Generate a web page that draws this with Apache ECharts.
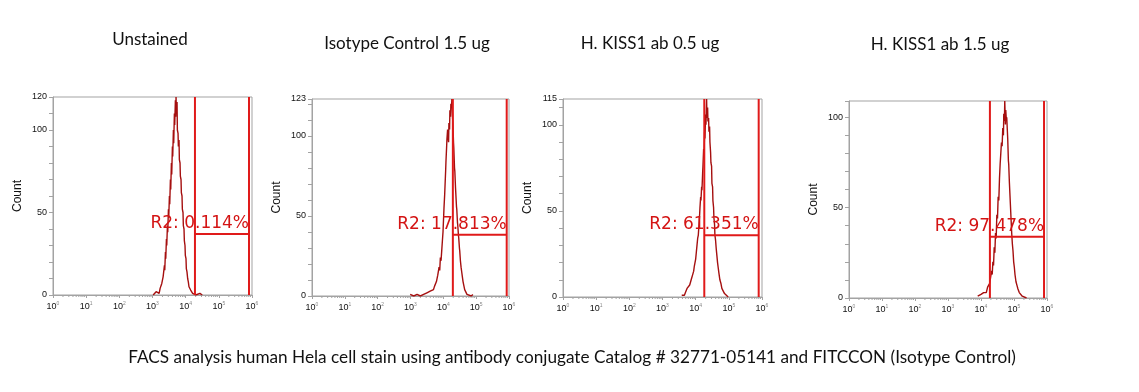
<!DOCTYPE html>
<html><head><meta charset="utf-8">
<script src="https://cdn.jsdelivr.net/npm/echarts@6/dist/echarts.min.js"></script>
<style>html,body{margin:0;padding:0;background:#fff}#c{width:1139px;height:392px}</style>
</head><body><div id="c"></div>
<script>
// ---- data (x = log10 fluorescence, y = count) ----
const panelTitles = ['Unstained', 'Isotype Control 1.5 ug', 'H. KISS1 ab 0.5 ug', 'H. KISS1 ab 1.5 ug'];
const caption = 'FACS analysis human Hela cell stain using antibody conjugate Catalog # 32771-05141 and FITCCON (Isotype Control)';
const yMax = [120, 123, 115, 109];
const yLabelled = [[0, 50, 100, 120], [0, 50, 100, 123], [0, 50, 100, 115], [0, 50, 100]];
const xTickExp = ['0', '1', '2', '3', '4', '5', '6'];
const gateLeft = [4.28, 4.29, 4.26, 4.27];
const gateRight = [5.91, 5.93, 5.90, 5.91];
const gateLevel = [37, 38.3, 35.8, 33.9];
const gateText = ['R2: 0.114%', 'R2: 17.813%', 'R2: 61.351%', 'R2: 97.478%'];

const unstainedLog = [3.02,3.05,3.08,3.11,3.14,3.17,3.20,3.23,3.26,3.28,
  3.30,3.32,3.34,3.36,3.37,3.39,3.40,3.42,3.43,3.45,
  3.46,3.48,3.49,3.51,3.52,3.54,3.55,3.57,3.58,3.60,
  3.61,3.63,3.64,3.66,3.67,3.69,3.70,3.71,3.72,3.74,
  3.75,3.77,3.78,3.80,3.81,3.83,3.84,3.86,3.87,3.89,
  3.90,3.92,3.93,3.95,3.96,3.98,3.99,4.01,4.02,4.04,
  4.06,4.08,4.10,4.12,4.15,4.18,4.21,4.25,4.30,4.35,
  4.43,4.50];
const unstainedCount = [0,1,0,2,1,3,1,4,3,7,
  6,11,10,18,15,26,22,34,30,42,
  38,52,47,60,55,70,64,80,73,90,
  84,100,92,110,103,118,108,120,111,117,
  100,98,90,94,82,80,72,70,62,60,
  52,50,42,40,33,30,24,22,16,14,
  10,8,5,4,3,4,1,2,0,1,
  1,0];

const isotypeLog = [2.99,3.10,3.20,3.30,3.40,3.50,3.55,3.60,3.65,3.70,
  3.73,3.76,3.79,3.81,3.83,3.85,3.87,3.89,3.91,3.93,
  3.95,3.97,3.99,4.01,4.02,4.04,4.05,4.07,4.08,4.10,
  4.11,4.13,4.14,4.16,4.17,4.19,4.20,4.22,4.23,4.25,
  4.26,4.28,4.29,4.31,4.32,4.34,4.35,4.37,4.38,4.40,
  4.41,4.43,4.44,4.46,4.47,4.49,4.50,4.52,4.54,4.56,
  4.58,4.60,4.62,4.65,4.68,4.72,4.78,4.85,4.90];
const isotypeCount = [1,0,1,0,1,2,1,3,2,4,
  6,5,9,8,13,12,18,16,24,22,
  28,34,40,50,55,63,68,78,84,93,
  98,104,100,96,108,104,116,112,120,118,
  123,112,108,96,92,80,78,68,64,56,
  54,46,44,38,36,30,28,22,18,15,
  12,9,7,4,3,1,2,0,1];

const kiss05Log = [3.58,3.62,3.66,3.70,3.74,3.78,3.82,3.85,3.88,3.91,
  3.94,3.96,3.98,4.00,4.02,4.04,4.06,4.08,4.10,4.12,
  4.13,4.15,4.16,4.18,4.19,4.21,4.22,4.24,4.25,4.27,
  4.28,4.30,4.31,4.33,4.34,4.36,4.37,4.39,4.40,4.42,
  4.43,4.45,4.46,4.48,4.49,4.51,4.52,4.54,4.55,4.57,
  4.58,4.60,4.62,4.64,4.66,4.68,4.70,4.73,4.76,4.79,
  4.83,4.87,4.92,4.98];
const kiss05Count = [1,2,1,3,5,5,7,9,11,13,
  15,18,17,22,26,30,34,36,42,48,
  52,58,56,64,62,72,76,86,82,96,
  92,106,100,115,104,110,102,104,96,99,
  90,84,78,76,66,64,56,52,46,42,
  36,33,28,24,20,17,14,10,8,5,
  4,2,2,0];

const kiss15Log = [3.90,3.95,4.00,4.04,4.08,4.12,4.16,4.20,4.23,4.26,
  4.28,4.30,4.32,4.34,4.36,4.38,4.40,4.42,4.44,4.46,
  4.48,4.50,4.52,4.54,4.56,4.58,4.60,4.62,4.64,4.66,
  4.68,4.69,4.71,4.72,4.74,4.75,4.77,4.78,4.80,4.81,
  4.83,4.84,4.86,4.87,4.89,4.90,4.92,4.93,4.95,4.97,
  4.99,5.01,5.03,5.06,5.09,5.12,5.16,5.20,5.25,5.30,
  5.38];
const kiss15Count = [1,0,2,1,3,4,3,6,5,8,
  10,9,15,13,20,18,28,25,36,33,
  46,44,56,54,66,74,80,86,84,94,
  90,102,98,109,96,104,98,100,92,88,
  76,74,64,60,52,48,40,36,30,26,
  20,17,13,9,7,5,3,2,1,2,
  0];

const histLog = [unstainedLog, isotypeLog, kiss05Log, kiss15Log];
const histCount = [unstainedCount, isotypeCount, kiss05Count, kiss15Count];

// ---- layout ----
const grids = [
  {left: 53, top: 97, width: 199, height: 198},
  {left: 312, top: 99, width: 197, height: 197},
  {left: 563, top: 99, width: 199, height: 198},
  {left: 849, top: 101, width: 198, height: 197}
];
const titleX = [150, 407, 650, 940];
const titleY = [40, 44, 44, 45];
const AXIS = '#a3a3a3';
const HIST = '#a50f0f';
const GATE = '#e01a1a';

// minor log tick positions
const minorTicks = [];
for (let d = 0; d < 6; d++) for (let k = 2; k <= 9; k++) minorTicks.push([d + Math.log10(k), 0]);

const xAxes = [], yAxes = [], series = [], gridOpts = [];
grids.forEach((g, i) => {
  gridOpts.push(Object.assign({show: true, borderColor: AXIS, borderWidth: 1, backgroundColor: 'transparent'}, g));
  xAxes.push({
    type: 'value', gridIndex: i, min: 0, max: 6, interval: 1,
    axisLine: {show: true, lineStyle: {color: AXIS, width: 1}},
    axisTick: {show: true, length: 3, lineStyle: {color: AXIS}},
    splitLine: {show: false},
    axisLabel: {
      margin: 6, color: '#111', fontFamily: 'Liberation Sans', fontSize: 9,
      formatter: v => '10{e|' + xTickExp[Math.round(v)] + '}',
      rich: {e: {fontSize: 5, color: '#888', fontFamily: 'Liberation Sans', padding: [0, 0, 6, 0]}}
    }
  });
  const lab = yLabelled[i];
  yAxes.push({
    type: 'value', gridIndex: i, min: 0, max: yMax[i], interval: 10,
    name: 'Count', nameLocation: 'middle', nameGap: 29,
    nameTextStyle: {fontFamily: 'Liberation Sans', fontSize: 12, color: '#111'},
    axisLine: {show: true, lineStyle: {color: AXIS, width: 1}},
    axisTick: {show: true, length: 4, lineStyle: {color: AXIS}},
    splitLine: {show: false},
    axisLabel: {
      margin: 6, color: '#111', fontFamily: 'Liberation Sans', fontSize: 9,
      showMaxLabel: true,
      formatter: v => (lab.indexOf(Math.round(v)) >= 0 && Math.abs(v - Math.round(v)) < 1e-6) ? String(Math.round(v)) : ''
    }
  });
  series.push({
    type: 'custom', xAxisIndex: i, yAxisIndex: i, silent: true, clip: false,
    data: minorTicks,
    renderItem: (p, api) => {
      const c = api.coord([api.value(0), 0]);
      return {type: 'line', shape: {x1: c[0], y1: c[1], x2: c[0], y2: c[1] + 2}, style: {stroke: AXIS, lineWidth: 1}};
    }
  });
  series.push({
    type: 'line', xAxisIndex: i, yAxisIndex: i, silent: true,
    data: histLog[i].map((x, j) => [x, histCount[i][j]]),
    showSymbol: false, symbol: 'none',
    lineStyle: {color: HIST, width: 1.4}
  });
  series.push({
    type: 'custom', xAxisIndex: i, yAxisIndex: i, silent: true, clip: false, z: 5,
    data: [[gateLeft[i], gateRight[i], gateLevel[i]]],
    renderItem: (p, api) => {
      const l0 = api.coord([api.value(0), 0]), l1 = api.coord([api.value(0), yMax[i]]);
      const r0 = api.coord([api.value(1), 0]), r1 = api.coord([api.value(1), yMax[i]]);
      const hl = api.coord([api.value(0), api.value(2)]), hr = api.coord([api.value(1), api.value(2)]);
      return {type: 'group', children: [
        {type: 'line', shape: {x1: l0[0], y1: l0[1], x2: l1[0], y2: l1[1]}, style: {stroke: GATE, lineWidth: 2}},
        {type: 'line', shape: {x1: r0[0], y1: r0[1], x2: r1[0], y2: r1[1]}, style: {stroke: GATE, lineWidth: 2}},
        {type: 'line', shape: {x1: hl[0], y1: hl[1], x2: hr[0], y2: hr[1]}, style: {stroke: GATE, lineWidth: 2}},
        {type: 'text', style: {text: gateText[i], x: hr[0], y: hr[1] - 2, align: 'right', verticalAlign: 'bottom',
          fill: '#d41414', font: '17px "DejaVu Sans"'}}
      ]};
    }
  });
});

const graphics = panelTitles.map((t, i) => ({
  type: 'text', x: titleX[i], y: titleY[i],
  style: {text: t, align: 'center', verticalAlign: 'middle', fill: '#111', font: '17px Lato'}
}));
graphics.push({type: 'text', x: 572, y: 357,
  style: {text: caption, align: 'center', verticalAlign: 'middle', fill: '#111', font: '17.2px Lato'}});

const chart = echarts.init(document.getElementById('c'), null, {renderer: 'canvas'});
chart.setOption({
  animation: false,
  backgroundColor: '#fff',
  grid: gridOpts,
  xAxis: xAxes,
  yAxis: yAxes,
  series: series,
  graphic: graphics
});
</script></body></html>
